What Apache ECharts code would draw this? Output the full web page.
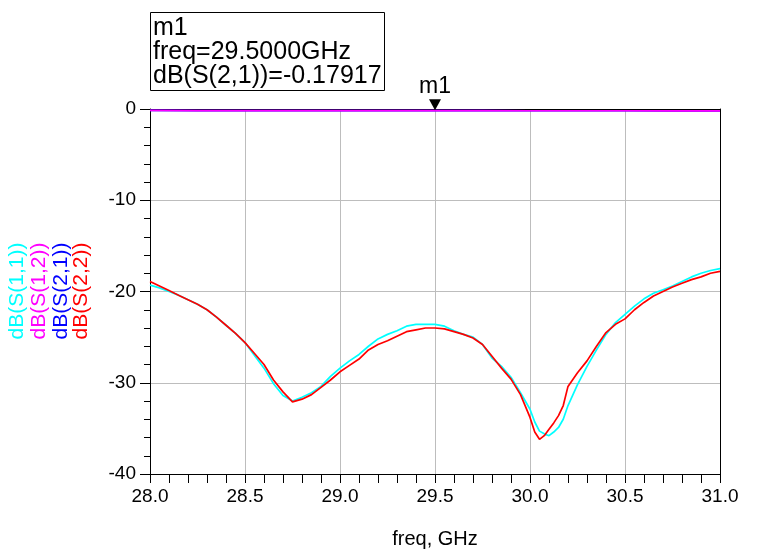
<!DOCTYPE html>
<html><head><meta charset="utf-8">
<script src="https://cdn.jsdelivr.net/npm/echarts@6/dist/echarts.min.js"></script>
<style>html,body{margin:0;padding:0;background:#fff}#c{width:758px;height:556px}</style>
</head><body><div id="c"></div>
<script>
// Frequencies (GHz) for the reflection traces
var freq = [28.00,28.05,28.10,28.15,28.20,28.25,28.30,28.35,28.40,28.45,
  28.50,28.55,28.60,28.65,28.70,28.75,28.80,28.85,28.90,28.95,
  29.00,29.05,29.10,29.15,29.20,29.25,29.30,29.35,29.40,29.45,
  29.50,29.55,29.60,29.65,29.70,29.75,29.80,29.85,29.90,29.95,
  30.00,30.025,30.05,30.075,30.10,30.125,30.15,30.175,30.20,
  30.25,30.30,30.35,30.40,30.45,30.50,30.55,30.60,30.65,30.70,
  30.75,30.80,30.85,30.90,30.95,31.00];
var s11 = [-19.3,-19.6,-20.0,-20.4,-20.9,-21.4,-22.0,-22.8,-23.7,-24.6,
  -25.6,-27.0,-28.4,-30.1,-31.4,-32.0,-31.6,-31.1,-30.4,-29.3,
  -28.4,-27.6,-26.9,-26.0,-25.2,-24.7,-24.3,-23.8,-23.6,-23.6,
  -23.6,-23.8,-24.3,-24.7,-25.0,-25.8,-27.3,-28.2,-29.4,-31.1,
  -32.9,-34.3,-35.3,-35.6,-35.8,-35.4,-34.9,-34.0,-32.5,
  -30.2,-28.2,-26.4,-24.7,-23.4,-22.5,-21.6,-20.8,-20.2,-19.8,
  -19.4,-18.9,-18.4,-18.0,-17.7,-17.5];
var s22 = [-18.9,-19.4,-19.9,-20.4,-20.9,-21.4,-22.0,-22.8,-23.7,-24.6,
  -25.6,-26.8,-28.0,-29.7,-31.0,-32.1,-31.8,-31.3,-30.5,-29.7,
  -28.8,-28.1,-27.4,-26.4,-25.8,-25.4,-24.9,-24.4,-24.2,-24.0,
  -24.0,-24.1,-24.4,-24.7,-25.1,-25.8,-27.1,-28.4,-29.6,-31.3,
  -33.8,-35.4,-36.2,-35.8,-35.1,-34.4,-33.6,-32.5,-30.4,
  -28.9,-27.6,-26.0,-24.5,-23.6,-23.0,-22.0,-21.2,-20.5,-20.0,
  -19.5,-19.1,-18.7,-18.4,-18.0,-17.8];
// Transmission traces
var freqT = [28.00,28.25,28.50,28.75,29.00,29.25,29.50,29.75,30.00,30.25,30.50,30.75,31.00];
var s21 = [-0.16,-0.17,-0.17,-0.18,-0.18,-0.18,-0.17917,-0.18,-0.19,-0.19,-0.19,-0.20,-0.20];
var s12 = [-0.16,-0.17,-0.17,-0.18,-0.18,-0.18,-0.17917,-0.18,-0.19,-0.19,-0.19,-0.20,-0.20];
var xTicks = ['28.0','28.5','29.0','29.5','30.0','30.5','31.0'];
var yTicks = ['0','-10','-20','-30','-40'];
var names = ['dB(S(1,1))','dB(S(1,2))','dB(S(2,1))','dB(S(2,2))'];
var colors = ['#00FFFF','#FF00FF','#0000FF','#FF0000'];
var marker = {name:'m1', freq:29.5, value:-0.17917};

function pairs(xs, ys){ return xs.map(function(x,i){return [x, ys[i]];}); }
var FONT = 'Liberation Sans, Arial, sans-serif';
var chart = echarts.init(document.getElementById('c'), null, {renderer:'canvas'});

var legendTexts = names.map(function(n,i){
  return {type:'text', x:[17,39,61,81][i], y:291, rotation:Math.PI/2,
    style:{text:n, fill:colors[i], font:'21px '+FONT, align:'center', verticalAlign:'middle'}};
});
var frameX = {type:'value', gridIndex:0, min:28, max:31, interval:0.5, position:'top',
  axisLine:{show:true, onZero:false, lineStyle:{color:'#000'}},
  axisTick:{show:false}, axisLabel:{show:false}, splitLine:{show:false}};
var frameY = {type:'value', gridIndex:0, min:-40, max:0, interval:10, position:'right',
  axisLine:{show:true, onZero:false, lineStyle:{color:'#000'}},
  axisTick:{show:false}, axisLabel:{show:false}, splitLine:{show:false}};
// thin strip under the plot: its split lines act as the outward x ticks
var tickStripX = {type:'value', gridIndex:1, min:28, max:31, interval:0.5,
  axisLine:{show:false, onZero:false}, axisTick:{show:false}, axisLabel:{show:false},
  minorTick:{show:false, splitNumber:5},
  splitLine:{show:true, lineStyle:{color:'#000', width:1}},
  minorSplitLine:{show:true, lineStyle:{color:'#000', width:1}}};
var tickStripY = {type:'value', gridIndex:1, min:0, max:1, show:false,
  axisLine:{show:false, onZero:false}, splitLine:{show:false}};

chart.setOption({
  animation:false,
  backgroundColor:'#fff',
  grid:[{left:150, right:38, top:109, bottom:82},
        {left:150, right:38, top:474, height:9}],
  title:{
    text: marker.name + '\nfreq=' + marker.freq.toFixed(4) + 'GHz\n' + names[2] + '=' + marker.value,
    left:150, top:13, borderColor:'#000', borderWidth:1, padding:[3,3,2,3],
    textStyle:{fontFamily:FONT, fontSize:25, lineHeight:24, fontWeight:'normal', color:'#000'}
  },
  xAxis:[{type:'value', gridIndex:0, min:28, max:31, interval:0.5, position:'bottom',
    name:'freq, GHz', nameLocation:'middle', nameGap:55,
    nameTextStyle:{fontFamily:FONT, fontSize:20, color:'#000'},
    axisLine:{show:true, onZero:false, lineStyle:{color:'#000'}},
    axisTick:{show:false},
    splitLine:{show:true, lineStyle:{color:'#bdbdbd', width:1}},
    axisLabel:{margin:13, fontFamily:FONT, fontSize:19, color:'#000',
      formatter:function(v){ var s=v.toFixed(1); return xTicks.indexOf(s)>=0?s:''; }}
  }, frameX, tickStripX],
  yAxis:[{type:'value', gridIndex:0, min:-40, max:0, interval:10,
    axisLine:{show:true, onZero:false, lineStyle:{color:'#000'}},
    axisTick:{show:true, length:10, lineStyle:{color:'#000'}},
    minorTick:{show:true, splitNumber:5, length:6, lineStyle:{color:'#000'}},
    splitLine:{show:true, lineStyle:{color:'#bdbdbd', width:1}},
    axisLabel:{margin:14, fontFamily:FONT, fontSize:19, color:'#000',
      formatter:function(v){ var s=String(Math.round(v)); return yTicks.indexOf(s)>=0?s:''; }}
  }, frameY, tickStripY],
  series:[
    {name:names[0], type:'line', xAxisIndex:0, yAxisIndex:0, data:pairs(freq,s11), showSymbol:false, lineStyle:{color:colors[0], width:1.7}, itemStyle:{color:colors[0]}, z:2},
    {name:names[2], type:'line', xAxisIndex:0, yAxisIndex:0, data:pairs(freqT,s21), showSymbol:false, lineStyle:{color:colors[2], width:1.7}, itemStyle:{color:colors[2]}, z:3,
      markPoint:{symbol:'triangle', symbolRotate:180, symbolSize:[12,11], symbolOffset:[0,-6], silent:true,
        itemStyle:{color:'#000'},
        label:{show:true, position:'top', distance:1, formatter:marker.name, fontFamily:FONT, fontSize:23, color:'#000'},
        data:[{coord:[marker.freq, marker.value]}]}},
    {name:names[1], type:'line', xAxisIndex:0, yAxisIndex:0, data:pairs(freqT,s12), showSymbol:false, lineStyle:{color:colors[1], width:1.7}, itemStyle:{color:colors[1]}, z:4},
    {name:names[3], type:'line', xAxisIndex:0, yAxisIndex:0, data:pairs(freq,s22), showSymbol:false, lineStyle:{color:colors[3], width:1.7}, itemStyle:{color:colors[3]}, z:5}
  ],
  graphic: legendTexts
});
</script></body></html>
